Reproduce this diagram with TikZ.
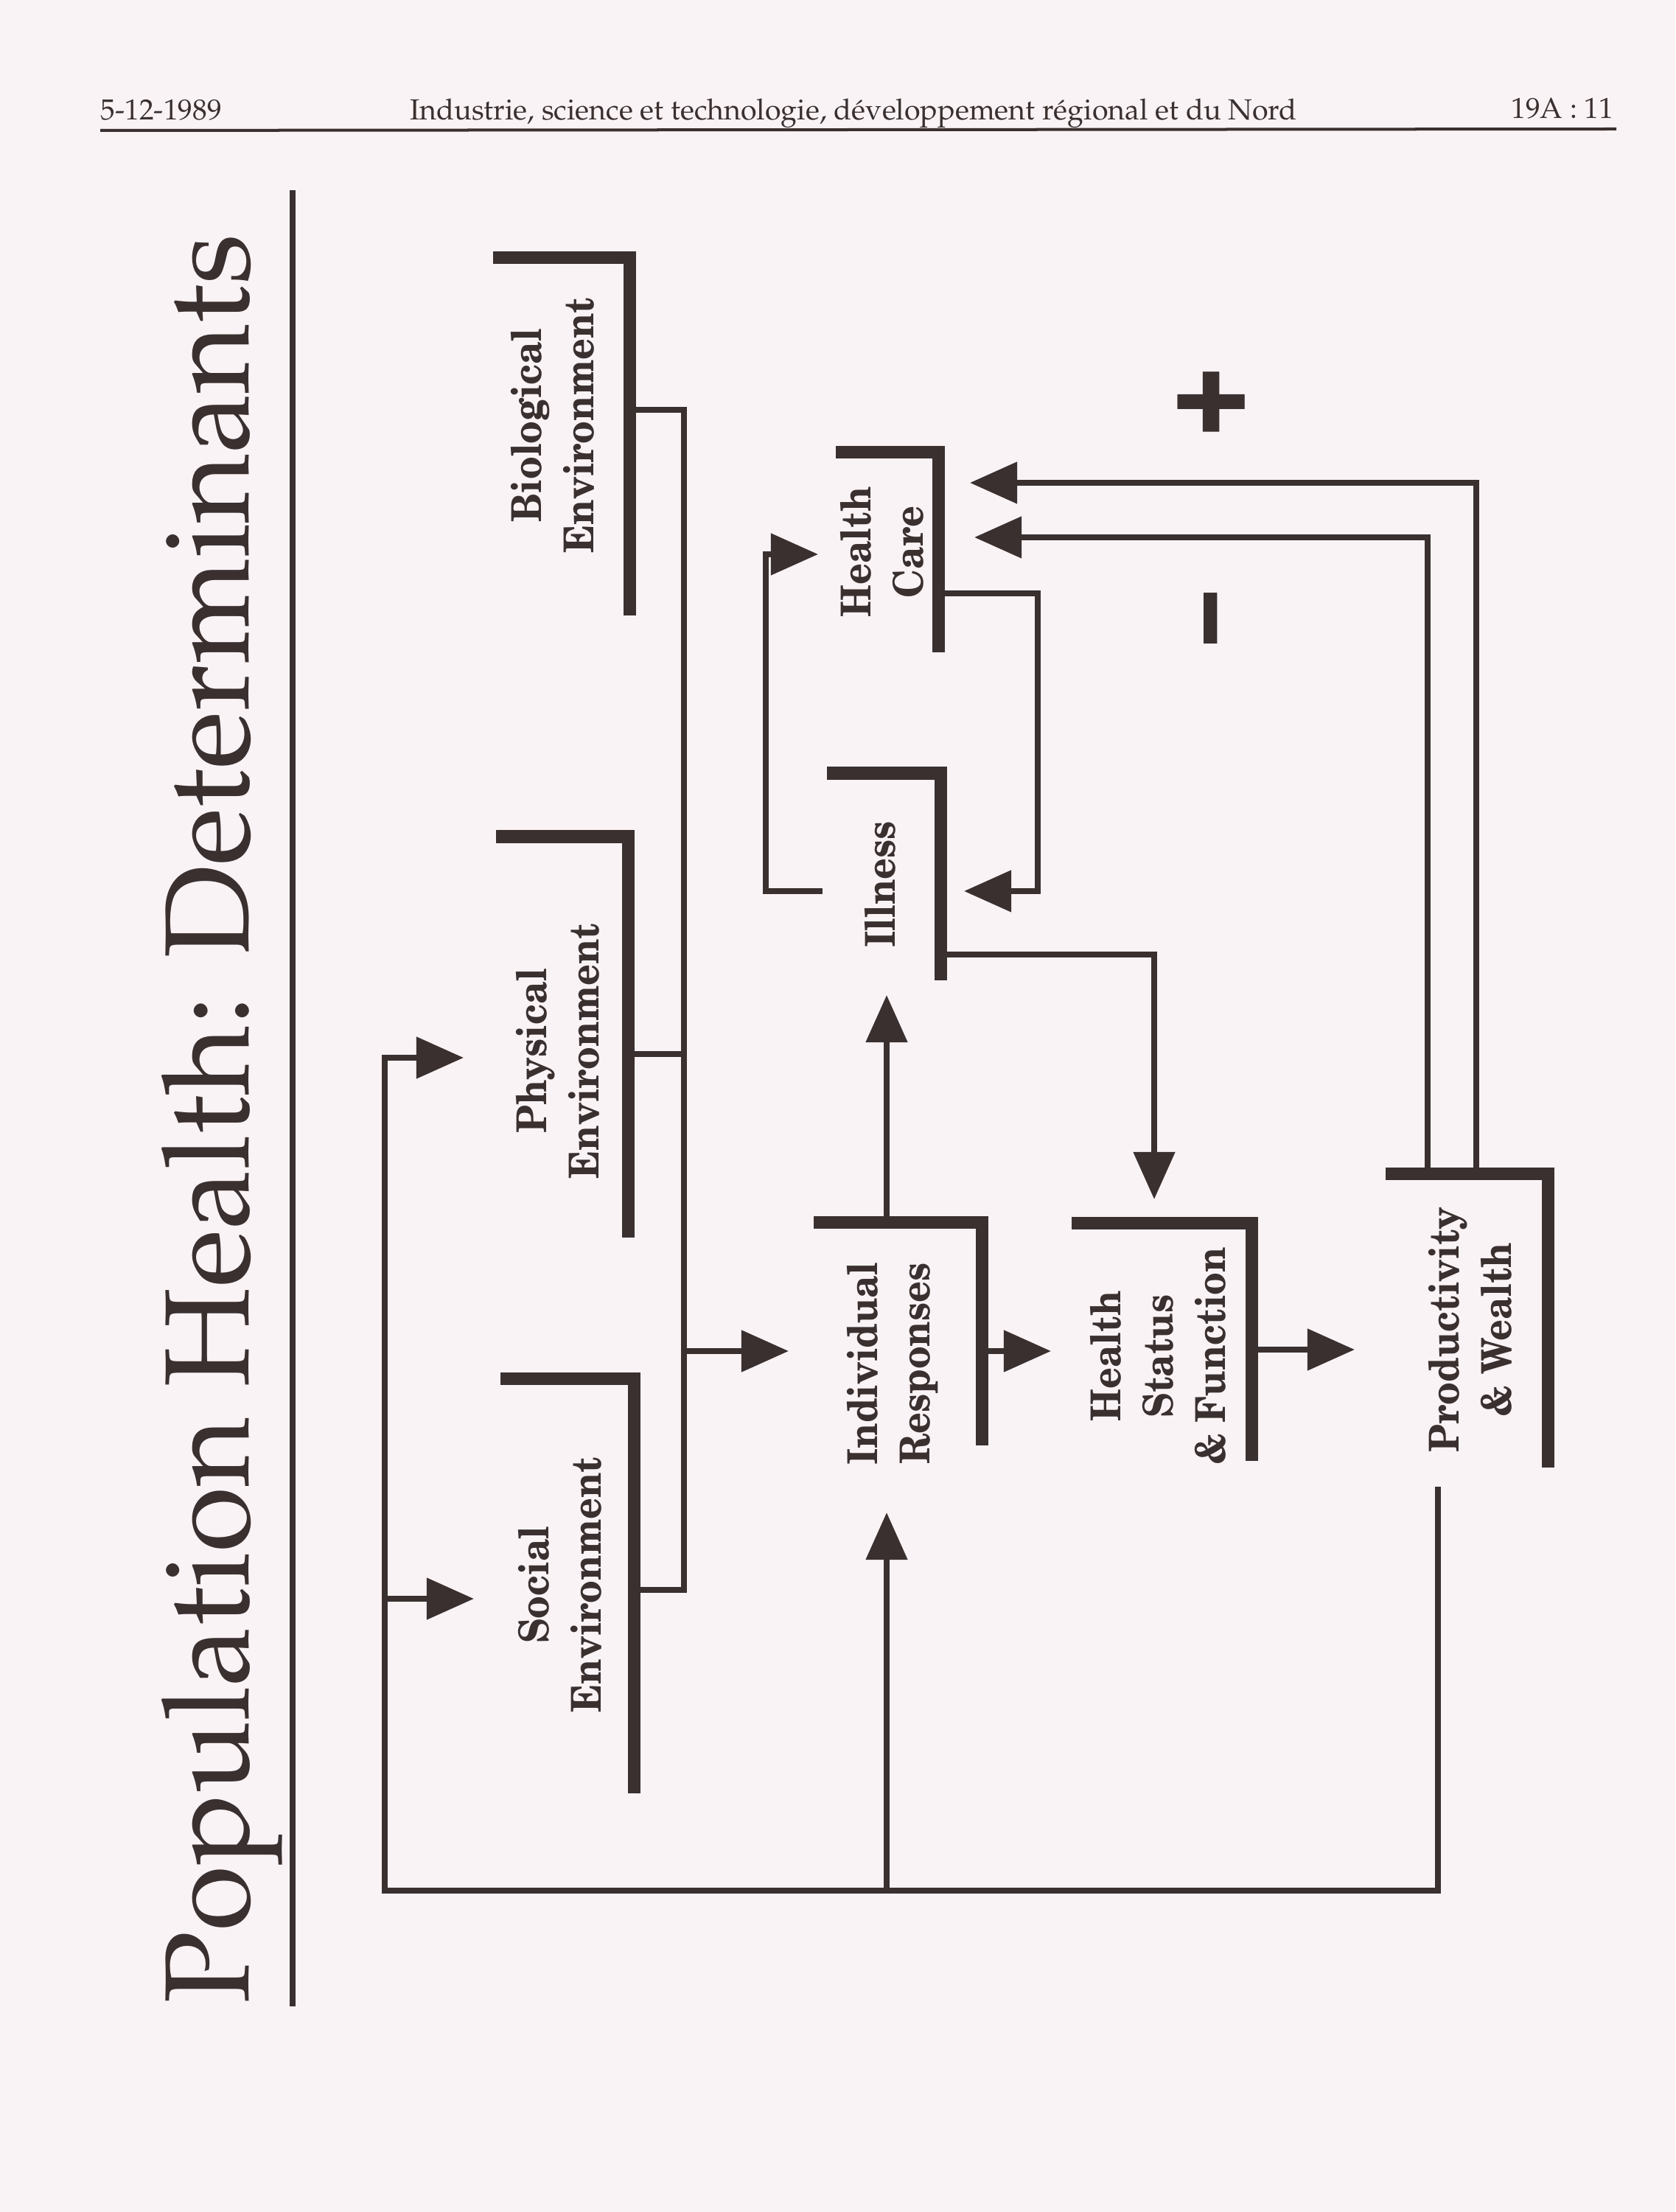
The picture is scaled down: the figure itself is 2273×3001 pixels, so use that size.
\documentclass[tikz,border=0pt]{standalone}
\usepackage[T1,TU]{fontenc}
\usetikzlibrary{arrows.meta}
\definecolor{ink}{RGB}{58,48,48}
\definecolor{paper}{RGB}{250,243,245}
\newcommand\DiagFont{\fontencoding{T1}\fontfamily{pnc}\fontseries{b}\fontshape{n}\fontsize{15.9}{20.2}\selectfont}
\newcommand\HeadFont{\fontencoding{T1}\fontfamily{ppl}\fontseries{m}\fontshape{n}\fontsize{11.2}{13}\selectfont}
\newcommand\TitleFont{\fontencoding{T1}\fontfamily{ppl}\fontseries{m}\fontshape{n}\fontsize{46.3}{52}\selectfont}
\newcommand\SignFont{\fontencoding{T1}\fontfamily{phv}\fontseries{b}\fontshape{n}\selectfont}
\begin{document}
\begin{tikzpicture}[x=0.01cm,y=-0.01cm,
  bracket/.style={draw=ink, line width=0.17cm},
  link/.style={draw=ink, line width=0.08cm},
  arr/.style={link, -{Triangle[length=0.64cm,width=0.55cm]}},
  lbl/.style={rotate=90, xscale=0.9, align=center, font=\DiagFont, text=ink, inner sep=0pt},
  head/.style={font=\HeadFont, text=ink, inner sep=0pt}]
\fill[paper] (0,0) rectangle (2273,3001);
\useasboundingbox (0,0) rectangle (2273,3001);

% header
\node[head, anchor=base west] (date) at (136,163) {5-12-1989};
\node[head, anchor=base] (committee) at (1158,163) {Industrie, science et technologie, d\'eveloppement r\'egional et du Nord};
\node[head, anchor=base east] (page) at (2190,161) {19A : 11};
\coordinate (hruleL) at (136,177);
\coordinate (hruleR) at (2193,175);
\draw[ink, line width=0.04cm] (hruleL) -- (hruleR);

% title
\node[rotate=90, anchor=base, font=\TitleFont, text=ink, inner sep=0pt] (title) at (337,1518) {Population Health: Determinants};
\coordinate (truleT) at (397,258);
\coordinate (truleB) at (397,2722);
\draw[ink, line width=0.08cm] (truleT) -- (truleB);

% labels
\node[lbl] (bio) at (750,577) {Biological\\Environment};
\node[lbl] (phy) at (757,1426) {Physical\\Environment};
\node[lbl] (soc) at (760,2150) {Social\\Environment};
\node[lbl] (hc)  at (1197,749) {Health\\Care};
\node[lbl] (ill) at (1195,1200) {Illness};
\node[lbl] (ir)  at (1212,1850) {Individual\\Responses};
\node[lbl] (hsf) at (1572,1840) {Health\\Status\\\& Function};
\node[lbl] (pw)  at (1995,1804) {Productivity\\\& Wealth};

% brackets
\coordinate (bio-l) at (669,350);  \coordinate (bio-c) at (854,350);  \coordinate (bio-b) at (854,835);
\coordinate (hc-l)  at (1134,614); \coordinate (hc-c)  at (1273,614); \coordinate (hc-b)  at (1273,885);
\coordinate (ill-l) at (1122,1049);\coordinate (ill-c) at (1276,1049);\coordinate (ill-b) at (1276,1330);
\coordinate (phy-l) at (673,1135); \coordinate (phy-c) at (852,1135); \coordinate (phy-b) at (852,1679);
\coordinate (soc-l) at (679,1870); \coordinate (soc-c) at (860,1870); \coordinate (soc-b) at (860,2433);
\coordinate (ir-l)  at (1104,1658);\coordinate (ir-c)  at (1332,1658);\coordinate (ir-b)  at (1332,1961);
\coordinate (hsf-l) at (1454,1659);\coordinate (hsf-c) at (1698,1659);\coordinate (hsf-b) at (1698,1982);
\coordinate (pw-l)  at (1880,1592);\coordinate (pw-c)  at (2100,1592);\coordinate (pw-b)  at (2100,1991);
\foreach \b in {bio,hc,ill,phy,soc,ir,hsf,pw}
  \draw[bracket] (\b-l) -- (\b-c) -- (\b-b);

% environment bus
\coordinate (bioOut) at (854,556);
\coordinate (phyOut) at (852,1430);
\coordinate (socOut) at (860,2157);
\coordinate (bus) at (928,1000);
\coordinate (irIn) at (1070,1833);
\draw[link] (bioOut) -- (bioOut -| bus) -- (socOut -| bus) -- (socOut);
\draw[link] (phyOut) -- (phyOut -| bus);
\draw[arr] (irIn -| bus) -- (irIn);

% main chain
\coordinate (irOut) at (1332,1833);  \coordinate (hsfIn) at (1426,1833);
\draw[arr] (irOut) -- (hsfIn);
\coordinate (hsfOut) at (1698,1831); \coordinate (pwIn) at (1838,1831);
\draw[arr] (hsfOut) -- (pwIn);

% individual responses -> illness
\coordinate (irTop) at (1203,1658); \coordinate (illIn) at (1203,1350);
\draw[arr] (irTop) -- (illIn);
% illness -> health status
\coordinate (illOut) at (1276,1295); \coordinate (hsfTop) at (1566,1627);
\draw[arr] (illOut) -| (hsfTop);
% health care -> illness
\coordinate (hcOut) at (1273,805); \coordinate (hcBend) at (1408,805); \coordinate (illR) at (1308,1209);
\draw[arr] (hcOut) -- (hcBend) |- (illR);
% illness -> health care
\coordinate (illL) at (1116,1209); \coordinate (loopL) at (1039,752); \coordinate (hcL) at (1110,752);
\draw[arr] (illL) -| (loopL) -- (hcL);
% productivity -> health care
\coordinate (pwP) at (2003,1592); \coordinate (hcP) at (1316,655);
\draw[arr] (pwP) |- (hcP);
\coordinate (pwM) at (1937,1592); \coordinate (hcM) at (1322,729);
\draw[arr] (pwM) |- (hcM);

% big feedback loop
\coordinate (pwLow) at (1951,2017); \coordinate (loopBR) at (1951,2565);
\coordinate (loopBL) at (522,2565); \coordinate (phyIn) at (629,1435);
\coordinate (socIn) at (643,2169); \coordinate (irBot) at (1203,2052);
\draw[arr] (pwLow) -- (loopBR) -- (loopBL) |- (phyIn);
\draw[arr] (socIn -| loopBL) -- (socIn);
\draw[arr] (irBot |- loopBL) -- (irBot);

% signs
\node[anchor=base, inner sep=0pt, text=ink, font=\SignFont\fontsize{48}{52}\selectfont] (plus) at (1644,585) {\scalebox{1.12}[1]{+}};
\node[rotate=90, anchor=base, inner sep=0pt, text=ink, font=\SignFont\fontsize{34.7}{40}\selectfont] (minus) at (1688,839) {\scalebox{1}[1.45]{--}};
\end{tikzpicture}
\end{document}
